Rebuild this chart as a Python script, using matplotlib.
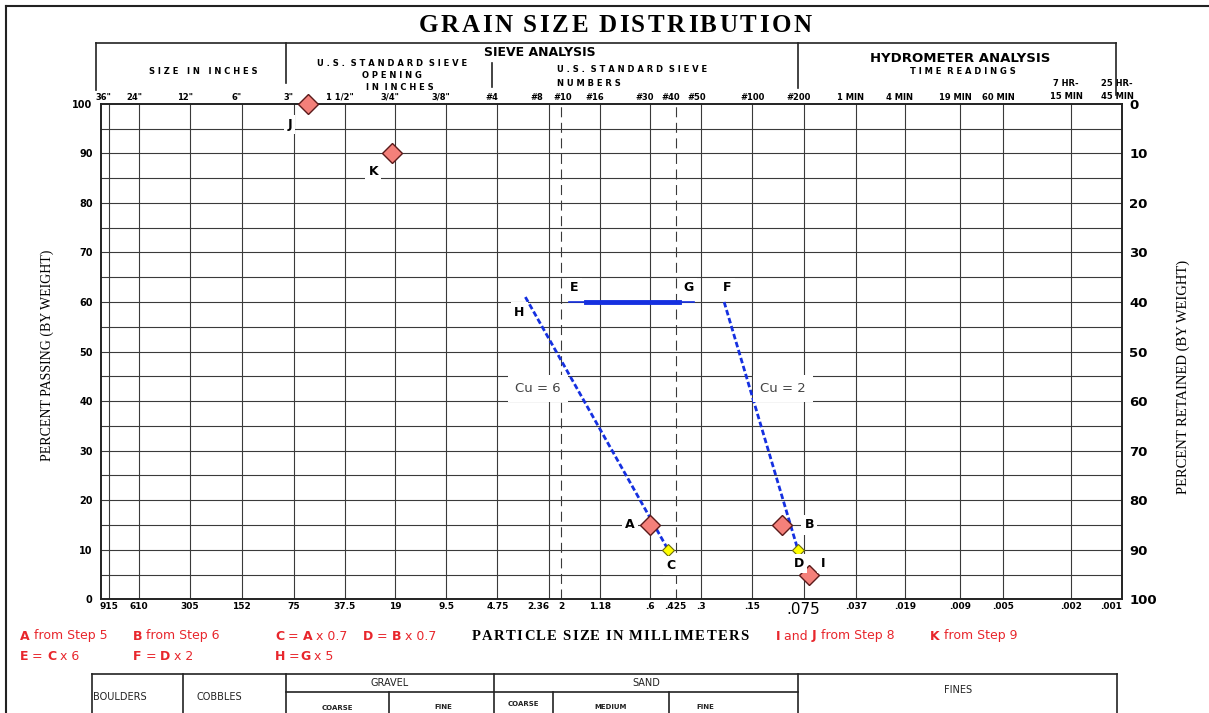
import numpy as np
import matplotlib.pyplot as plt
from matplotlib import transforms
from matplotlib.lines import Line2D
from matplotlib.patches import Rectangle

W, H = 1209, 713

# sieve / hydrometer sizes (mm) on the chart, with their labels
size_mm = [915, 610, 305, 152, 75, 37.5, 19, 9.5, 4.75, 2.36, 2, 1.18, .6, .425,
           .3, .15, .075, .037, .019, .009, .005, .002, .001]
mm_labels = ['915', '610', '305', '152', '75', '37.5', '19', '9.5', '4.75', '2.36', '2',
             '1.18', '.6', '.425', '.3', '.15', '.075', '.037', '.019', '.009', '.005',
             '.002', '.001']
top_labels = ['36"', '24"', '12"', '6"', '3"', '1 1/2"', '3/4"', '3/8"', '#4', '#8', '#10',
              '#16', '#30', '#40', '#50', '#100', '#200', '1 MIN', '4 MIN', '19 MIN',
              '60 MIN', '7 HR-\n15 MIN', '25 HR-\n45 MIN']
dashed_sizes = [2, .425]

# points: size (mm), percent passing
red_names = ['A', 'B', 'I', 'J', 'K']
red_size = [0.6, 0.1, 0.07, 62, 19.7]
red_pct = [15, 15, 5, 100, 90]
yellow_names = ['C', 'D']
yellow_size = [0.47, 0.081]
yellow_pct = [10, 10]

# Cu lines
h_size = [3.25, 0.47]
h_pct = [61, 10]
f_size = [0.22, 0.081]
f_pct = [60, 10]
eg_thin = [1.81, 0.333]
eg_thick = [1.42, 0.408]
eg_pct = 60

RED = '#e8262c'
BLUE = '#1530e0'


def fx(x):
    return x / W


def fy(y):
    return 1 - y / H


fig = plt.figure(figsize=(12.09, 7.13), dpi=100)
ax = fig.add_axes([fx(101), fy(599.3), (1122.3 - 101) / W, (599.3 - 103.8) / H])
ax.set_xscale('log')
ax.set_xlim(1020, 0.001)
ax.set_ylim(0, 100)

# grid
for v in range(5, 100, 5):
    ax.axhline(v, color='#3a3a3a', lw=0.8, zorder=1)
for s in size_mm[:-1]:
    if s in dashed_sizes:
        ax.axvline(s, color='#3a3a3a', lw=0.8, ls=(0, (9, 5)), zorder=1)
    else:
        ax.axvline(s, color='#3a3a3a', lw=0.8, zorder=1)
for sp in ax.spines.values():
    sp.set_linewidth(1.4)
    sp.set_color('#222222')

ax.set_xticks(size_mm)
ax.set_xticklabels(mm_labels)
ax.xaxis.set_minor_locator(plt.NullLocator())
ax.tick_params(axis='x', length=0, pad=2, labelsize=6.5)
for t in ax.get_xticklabels():
    t.set_fontweight('bold')
    if t.get_text() == '.075':
        t.set_fontsize(11)
        t.set_fontweight('normal')
    if t.get_text() in ('.001', '2.36'):
        t.set_horizontalalignment('right')
ax.set_yticks(range(0, 101, 10))
ax.tick_params(axis='y', length=0, pad=6, labelsize=7)
for t in ax.get_yticklabels():
    t.set_fontweight('bold')

ax2 = ax.twinx()
ax2.set_ylim(100, 0)
ax2.set_yticks(range(0, 101, 10))
ax2.tick_params(axis='y', length=0, pad=5, labelsize=9.5)
for t in ax2.get_yticklabels():
    t.set_fontweight('bold')
for sp in ax2.spines.values():
    sp.set_visible(False)

# Cu lines
ax.plot(h_size, h_pct, color=BLUE, lw=2, ls=(0, (2, 1)), zorder=3)
ax.plot(f_size, f_pct, color=BLUE, lw=2, ls=(0, (2, 1)), zorder=3)
ax.plot(eg_thin, [eg_pct, eg_pct], color=BLUE, lw=1.2, zorder=3)
ax.plot(eg_thick, [eg_pct, eg_pct], color=BLUE, lw=3.5, zorder=3)

ax.plot(red_size, red_pct, ls='none', marker='D', ms=10, mfc='#f4807a', mec='#5a1a1a',
        mew=1, zorder=4, clip_on=False)
ax.plot(yellow_size, yellow_pct, ls='none', marker='D', ms=6.5, mfc='#ffff00',
        mec='#6a6a10', mew=0.8, zorder=4, clip_on=False)

box = dict(boxstyle='square,pad=0.25', fc='white', ec='none')
lab_off = {'A': (-20, 0), 'B': (27, 0), 'I': (14, 11), 'J': (-18, -21), 'K': (-19, -18),
           'C': (3, -16), 'D': (1, -14)}
for n, s, p in zip(red_names + yellow_names, red_size + yellow_size, red_pct + yellow_pct):
    ax.annotate(n, (s, p), xytext=lab_off[n], textcoords='offset pixels', ha='center',
                va='center', fontsize=9, fontweight='bold', bbox=box, zorder=5,
                annotation_clip=False)
ax.annotate('H', (h_size[0], h_pct[0]), xytext=(-6, -15), textcoords='offset pixels',
            ha='center', va='center', fontsize=9, fontweight='bold', bbox=box, zorder=5)
ax.annotate('E', (eg_thick[0], eg_pct), xytext=(-12, 14), textcoords='offset pixels',
            ha='center', va='center', fontsize=9, fontweight='bold', bbox=box, zorder=5)
ax.annotate('G', (eg_thick[1], eg_pct), xytext=(10, 14), textcoords='offset pixels',
            ha='center', va='center', fontsize=9, fontweight='bold', bbox=box, zorder=5)
ax.annotate('F', (f_size[0], f_pct[0]), xytext=(3, 14), textcoords='offset pixels',
            ha='center', va='center', fontsize=9, fontweight='bold', bbox=box, zorder=5)
cubox = dict(boxstyle='square,pad=0.55', fc='white', ec='none')
ax.text(2.74, 42.5, 'Cu = 6', color='#444444', fontsize=9.5, ha='center', va='center',
        bbox=cubox, zorder=5)
ax.text(0.099, 42.5, 'Cu = 2', color='#444444', fontsize=9.5, ha='center', va='center',
        bbox=cubox, zorder=5)

# header row of sieve / time labels (nudged left like the printed form)
nudge = {'#8': -12, '#10': 2, '#100': 0, '36"': -6}
for s, lab in zip(size_mm, top_labels):
    yy = 97 if '\n' not in lab else 90
    ax.annotate(lab, xy=(s, 1), xycoords=('data', 'axes fraction'),
                xytext=(nudge.get(lab, -5), (103.8 - yy)), textcoords='offset pixels',
                ha='center', va='center', fontsize=6, fontweight='bold', linespacing=1.6,
                annotation_clip=False)


def fline(x0, y0, x1, y1, lw=1.2):
    fig.add_artist(Line2D([fx(x0), fx(x1)], [fy(y0), fy(y1)], color='#222222', lw=lw))


def spaced(x, y, s, gap, **kw):
    t = fig.text(fx(x), fy(y), s[0], va='center', ha='left', **kw)
    extra = 0
    for ch in s[1:]:
        if ch == ' ':
            extra += kw.get('fontsize', 10) * 0.42
            continue
        t = ax.annotate(ch, xy=(1, 0.5), xycoords=t, xytext=(gap + extra, 0),
                        textcoords='offset pixels', va='center', ha='left',
                        annotation_clip=False, **kw)
        extra = 0


# header brackets
fline(96, 43, 1116, 43)
fline(96, 43, 96, 90)
fline(286, 43, 286, 83)
fline(492, 63, 492, 87)
fline(798, 43, 798, 88)
fline(1116, 43, 1116, 95)
# outer frame
fline(6, 6, 1209, 6, 1.5)
fline(6, 6, 6, 713, 1.5)

spaced(419, 25, 'GRAIN SIZE DISTRIBUTION', 2.6, family='Liberation Serif',
       fontweight='bold', fontsize=18)
hdr = dict(fontsize=6, fontweight='bold', va='center')
fig.text(fx(203), fy(71), 'S I Z E   I N   I N C H E S', ha='center', **hdr)
fig.text(fx(392), fy(63), 'U . S .  S T A N D A R D  S I E V E', ha='center', **hdr)
fig.text(fx(392), fy(76), 'O P E N I N G', ha='center', **hdr)
fig.text(fx(400), fy(87), 'I N  I N C H E S', ha='center', **hdr)
fig.text(fx(484), fy(53), 'SIEVE ANALYSIS', ha='left', va='center', fontsize=9,
         fontweight='bold')
fig.text(fx(557), fy(70), 'U . S .  S T A N D A R D  S I E V E', ha='left', **hdr)
fig.text(fx(557), fy(84), 'N U M B E R S', ha='left', **hdr)
fig.add_artist(Rectangle((fx(550), fy(91)), fx(100), (91 - 84) / H, fc='white', ec='none',
                         zorder=3))
fig.text(fx(960), fy(59), 'HYDROMETER ANALYSIS', ha='center', va='center', fontsize=9.5,
         fontweight='bold')
fig.text(fx(963), fy(72), 'T I M E  R E A D I N G S', ha='center', **hdr)

fig.text(fx(47), fy(355), 'PERCENT PASSING (BY WEIGHT)', family='Liberation Serif',
         fontsize=10, rotation=90, ha='center', va='center')
fig.text(fx(1183), fy(377), 'PERCENT RETAINED (BY WEIGHT)', family='Liberation Serif',
         fontsize=10.5, rotation=90, ha='center', va='center')
spaced(472, 636, 'PARTICLE SIZE IN MILLIMETERS', 1.3, family='Liberation Serif',
       fontsize=10.5, fontweight='bold')


def rich(x, y, parts):
    t = fig.text(fx(x), fy(y), parts[0][0], color=RED, fontsize=9, va='center',
                 fontweight='bold' if parts[0][1] else 'normal')
    for txt, b in parts[1:]:
        t = ax.annotate(txt, xy=(1, 0.5), xycoords=t, va='center', ha='left', color=RED,
                        fontsize=9, fontweight='bold' if b else 'normal',
                        annotation_clip=False)


rich(20, 636, [('A', 1), (' from Step 5', 0)])
rich(133, 636, [('B', 1), (' from Step 6', 0)])
rich(275, 636, [('C', 1), (' = ', 0), ('A', 1), (' x 0.7', 0)])
rich(363, 636, [('D', 1), (' = ', 0), ('B', 1), (' x 0.7', 0)])
rich(776, 636, [('I', 1), (' and ', 0), ('J', 1), (' from Step 8', 0)])
rich(930, 636, [('K', 1), (' from Step 9', 0)])
rich(20, 656, [('E', 1), (' = ', 0), ('C', 1), (' x 6', 0)])
rich(133, 656, [('F', 1), (' = ', 0), ('D', 1), (' x 2', 0)])
rich(275, 656, [('H', 1), (' =', 0), ('G', 1), (' x 5', 0)])

# soil class table
fline(92, 674, 1117, 674)
fline(286, 692, 798, 692)
for xv in [92, 183, 286, 494, 798, 1117]:
    fline(xv, 674, xv, 713)
for xv in [389, 553, 669]:
    fline(xv, 692, xv, 713)
tb = dict(fontsize=7, va='center', color='#222222')
fig.text(fx(93), fy(697), 'BOULDERS', ha='left', **tb)
fig.text(fx(219), fy(697), 'COBBLES', ha='center', **tb)
fig.text(fx(390), fy(683), 'GRAVEL', ha='center', **tb)
fig.text(fx(646), fy(683), 'SAND', ha='center', **tb)
fig.text(fx(958), fy(690), 'FINES', ha='center', **tb)
sb = dict(fontsize=5, fontweight='bold', va='center', ha='center', color='#222222')
fig.text(fx(337), fy(708), 'COARSE', **sb)
fig.text(fx(443), fy(707), 'FINE', **sb)
fig.text(fx(523), fy(704), 'COARSE', **sb)
fig.text(fx(611), fy(707), 'MEDIUM', **sb)
fig.text(fx(705), fy(707), 'FINE', **sb)

fig.savefig('out.png', dpi=100)
